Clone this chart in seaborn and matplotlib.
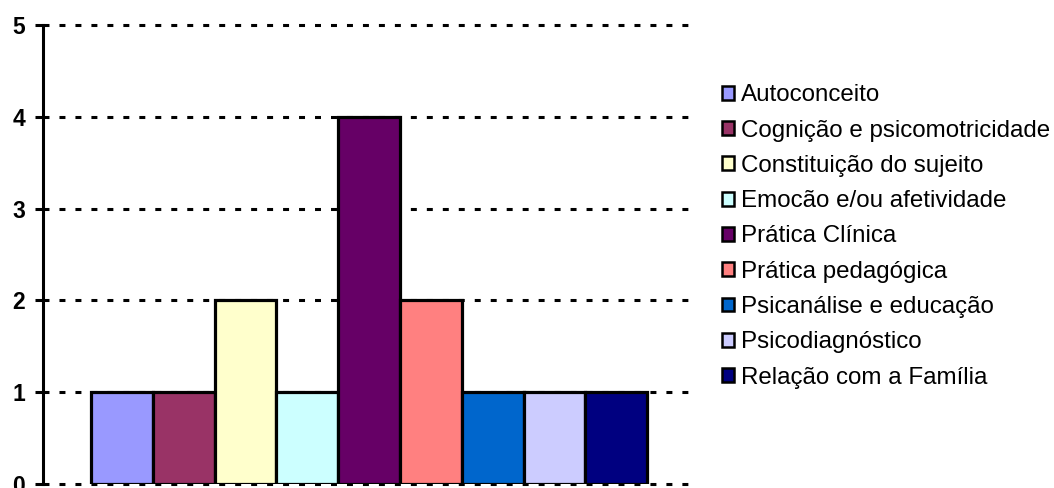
import matplotlib
matplotlib.use("Agg")
import matplotlib.pyplot as plt
import seaborn as sns
import pandas as pd

categories = [
    "Autoconceito",
    "Cognição e psicomotricidade",
    "Constituição do sujeito",
    "Emocão e/ou afetividade",
    "Prática Clínica",
    "Prática pedagógica",
    "Psicanálise e educação",
    "Psicodiagnóstico",
    "Relação com a Família",
]
counts = [1, 1, 2, 1, 4, 2, 1, 1, 1]
colors = ["#9999FF", "#993366", "#FFFFCC", "#CCFFFF", "#660066",
          "#FF8080", "#0066CC", "#CCCCFF", "#000080"]
yticks = [0, 1, 2, 3, 4, 5]

sns.set_theme(style="white")
plt.rcParams["font.family"] = ["Liberation Sans", "DejaVu Sans"]
plt.rcParams["text.color"] = "black"
plt.rcParams["lines.scale_dashes"] = False

df = pd.DataFrame({"tema": categories, "n": counts})

fig = plt.figure(figsize=(10.54, 4.88), dpi=100)
ax = fig.add_axes([43 / 1054, 4 / 488, (688 - 43) / 1054, (484 - 25) / 488])

# dashed reference lines behind the bars
for t in yticks:
    ax.axhline(t, color="black", lw=2.2, linestyle=(0, (4.3, 7.2)), zorder=0,
               clip_on=False)

sns.barplot(data=df, x="tema", y="n", hue="tema", palette=colors,
            width=1.0, edgecolor="black", linewidth=2.3, legend=False,
            saturation=1, ax=ax, zorder=2)

ax.set_xlim(-1.277, 9.16)
ax.set_ylim(0, 5)
ax.set_yticks(yticks)
ax.set_yticklabels([str(t) for t in yticks], fontsize=16.5, fontweight="bold",
                   color="black")
ax.set_xticks([])
ax.set_xlabel("")
ax.set_ylabel("")
for side in ["top", "right", "bottom"]:
    ax.spines[side].set_visible(False)
ax.spines["left"].set_color("black")
ax.spines["left"].set_linewidth(2.2)
ax.tick_params(axis="y", direction="out", length=6, width=2.2, color="black",
               left=True, pad=7)

handles = [plt.Rectangle((0, 0), 1, 1, facecolor=c, edgecolor="black", lw=1.8)
           for c in colors]
leg = fig.legend(handles, categories, loc="center left",
                 bbox_to_anchor=(722 / 1054, 251.5 / 488), frameon=False,
                 fontsize=17.4, handlelength=0.5, handleheight=0.5,
                 handletextpad=0.3, labelspacing=0.55, borderpad=0,
                 borderaxespad=0)
for txt in leg.get_texts():
    txt.set_color("black")

fig.savefig("out.png", dpi=100, facecolor="white")
